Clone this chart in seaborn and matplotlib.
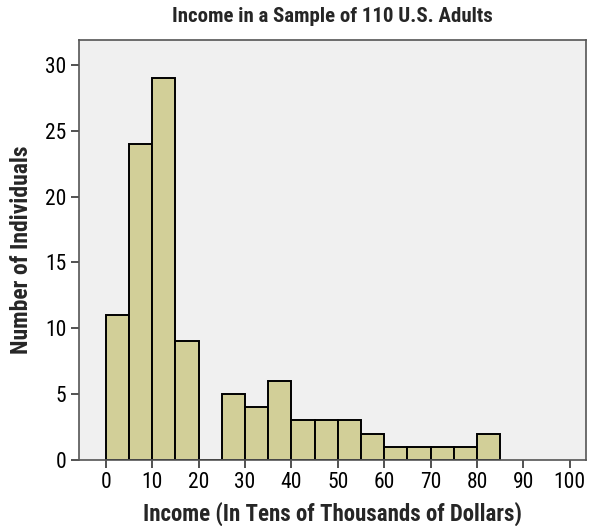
import numpy as np
import pandas as pd
import matplotlib.pyplot as plt
import seaborn as sns

# Histogram bins (income in tens of thousands) and counts
bin_edges = [0, 5, 10, 15, 20, 25, 30, 35, 40, 45, 50, 55, 60, 65, 70, 75, 80, 85]
counts = [11, 24, 29, 9, 0, 5, 4, 6, 3, 3, 3, 2, 1, 1, 1, 1, 2]
x_ticks = [0, 10, 20, 30, 40, 50, 60, 70, 80, 90, 100]
y_ticks = [0, 5, 10, 15, 20, 25, 30]

df = pd.DataFrame({
    'income': [(a + b) / 2 for a, b in zip(bin_edges[:-1], bin_edges[1:])],
    'n': counts,
})

sns.set_style('ticks')
plt.rcParams['font.family'] = ['Roboto Condensed', 'DejaVu Sans']
plt.rcParams['font.stretch'] = 'condensed'

fig = plt.figure(figsize=(5.94, 5.26), dpi=100)
ax = fig.add_axes([0.133, 0.1255, 0.8535, 0.7985])
ax.set_facecolor('#f0f0f0')

sns.histplot(data=df, x='income', weights='n', bins=bin_edges,
             color='#d2cf98', edgecolor='black', linewidth=1.4, alpha=1, ax=ax)

ax.set_xlim(-5.8, 103.5)
ax.set_ylim(0, 31.9)
ax.set_xticks(x_ticks)
ax.set_yticks(y_ticks)
ax.tick_params(labelsize=15.5, length=6, width=1.2, color='#333333', pad=3,
               labelcolor='black')
for s in ax.spines.values():
    s.set_visible(True)
    s.set_color('#555555')
    s.set_linewidth(1.2)

ax.set_title('Income in a Sample of 110 U.S. Adults', fontsize=15,
             fontweight='bold', pad=13)
ax.set_xlabel('Income (In Tens of Thousands of Dollars)', fontsize=16.5,
              fontweight='bold', labelpad=6)
ax.set_ylabel('Number of Individuals', fontsize=17, fontweight='bold', labelpad=9)

plt.savefig('out.png', dpi=100)
